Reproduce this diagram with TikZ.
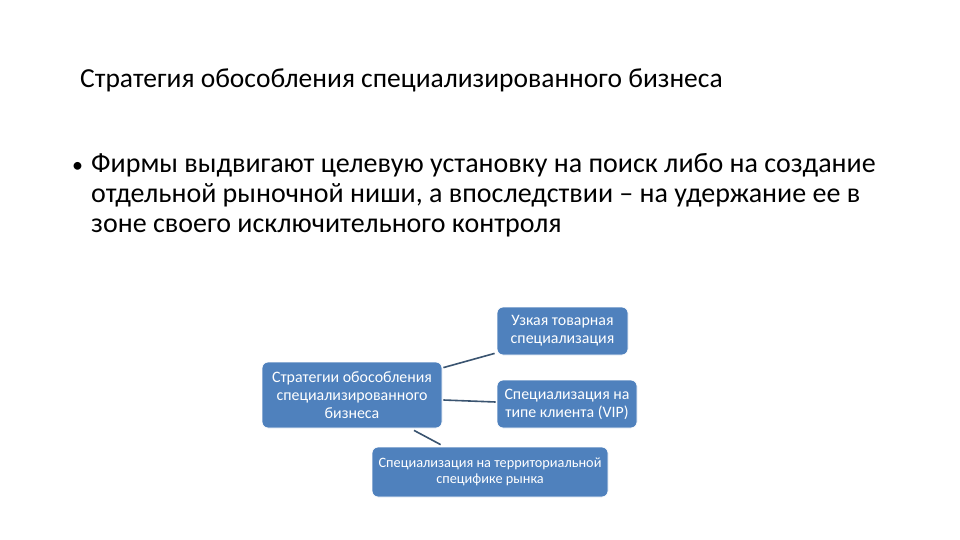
\documentclass[tikz,border=0pt]{standalone}
\usepackage{fontspec}
\setmainfont{Carlito}
\usetikzlibrary{calc}
\definecolor{boxblue}{RGB}{79,129,189}
\definecolor{linkgray}{RGB}{58,84,112}

\begin{document}
\begin{tikzpicture}[x=1pt,y=-1pt,
  box/.style={draw=white,line width=0.8pt,fill=boxblue,rounded corners=6pt,
    text=white,align=center,inner sep=2pt},
  link/.style={draw=linkgray,line width=1.6pt}]
  \fill[white] (0,0) rectangle (960,540);

  \node[anchor=base west,inner sep=0pt,font=\fontsize{27.5}{33}\selectfont] (title) at (80,88)
    {Стратегия обособления специализированного бизнеса};
  % base anchor sits on the last line
  \node[anchor=base west,align=left,inner sep=0pt,
        font=\fontsize{28}{30}\selectfont] (text) at (91,232)
    {\llap{\fontsize{22}{22}\selectfont•\hspace{8pt}}Фирмы выдвигают целевую установку на поиск либо на создание\\
     отдельной рыночной ниши, а впоследствии – на удержание ее в\\
     зоне своего исключительного контроля};

  \node[box,minimum width=180pt,minimum height=66pt,
        font=\fontsize{15.9}{18}\selectfont] (cb) at (352,395)
    {Стратегии обособления\\специализированного\\бизнеса};
  \node[box,minimum width=131pt,minimum height=48pt,
        font=\fontsize{15.9}{18}\selectfont] (top) at (562.5,331)
    {Узкая товарная\\специализация};
  \node[box,minimum width=140pt,minimum height=48pt,
        font=\fontsize{15.9}{18}\selectfont] (mid) at (567,404)
    {Специализация на\\типе клиента (VIP)};
  \node[box,minimum width=236pt,minimum height=50pt,
        font=\fontsize{14.3}{16}\selectfont] (bot) at (490,472)
    {Специализация на территориальной\\специфике рынка};

  \draw[link] ($(cb.north east)+(1,6)$) -- ($(top.south west)+(-2,-2)$);
  \draw[link] ($(cb.east)+(1,5)$) -- ($(mid.west)+(-1,-2)$);
  \draw[link] ($(cb.south)+(62,2)$) -- ($(bot.north west)+(69,-2)$);
\end{tikzpicture}
\end{document}
